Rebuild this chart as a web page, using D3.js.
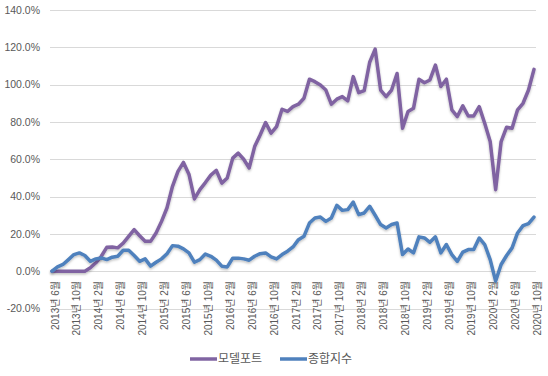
<!DOCTYPE html>
<html>
<head>
<meta charset="utf-8">
<script src="https://cdn.jsdelivr.net/npm/d3@7"></script>
<style>
  body { margin: 0; background: #fff; }
  svg { display: block; font-family: "Liberation Sans", Arial, "Noto Sans CJK KR", sans-serif; }
</style>
</head>
<body>
<div id="chart"></div>
<script>
// 데이터 (%)
const startMonth = new Date(2013, 5, 1);
const endMonth = new Date(2020, 10, 1);

const modelPort = [
  0, 0, 0, 0, 0, 0, 0, 1.8, 4.5, 8, 12.8, 13, 12.5, 15, 18.7, 22.3, 19, 16, 16, 20.5,
  26.7, 34, 45.5, 53.5, 58.3, 52, 38.7, 43.7, 47.5, 51.5, 54, 47.2, 50, 60.6, 63.3, 60, 55.3, 66.8, 73, 79.7,
  74, 77.5, 86.8, 85.6, 88.2, 89.5, 92.7, 102.9, 101.6, 99.8, 97.1, 89.5, 92.2, 93.6, 91.3, 104.3, 95.7, 96.8, 112, 119,
  97.1, 93.6, 97.1, 106, 76.6, 85.6, 87.3, 102.9, 101, 102.5, 110.5, 99, 102.9, 86.5, 82.9, 88.6, 83.2, 83.2, 88.2, 79.3,
  69.5, 43.7, 69.5, 77.2, 76.6, 86.5, 90, 97.1, 108.2
];

const kospi = [
  0, 2.3, 3.6, 6.2, 8.9, 9.8, 8.4, 5.3, 6.6, 7.1, 6.2, 7.5, 8, 11.2, 11.2, 8.4, 5.3, 6.6, 2.7, 4.8,
  6.6, 9.4, 13.7, 13.4, 12, 9.8, 4.8, 6.2, 9.2, 8, 5.9, 2.7, 2.3, 7, 7, 6.6, 5.9, 8, 9.4, 9.8,
  7.7, 6.6, 8.9, 10.7, 13, 16.9, 18.7, 25.8, 28.5, 29, 26.7, 28.5, 35.3, 32.6, 33, 37, 30.3, 31.2, 34.8, 30,
  25, 23.2, 25, 25.8, 8.9, 11.9, 9.8, 18.4, 17.8, 15.5, 18.4, 9.8, 14.3, 8.9, 5.3, 10.2, 11.6, 11.6, 17.8, 14.3,
  6.2, -5.3, 3.6, 8.4, 12.5, 20.5, 24.4, 25.5, 29
];

const yTicks = [-20, 0, 20, 40, 60, 80, 100, 120, 140];

const seriesNames = ['모델포트', '종합지수'];
const seriesColors = ['#8064A2', '#4F81BD'];

// 설정
const width = 548, height = 376;
const months = d3.timeMonth.range(startMonth, endMonth);
const monthLabel = d => `${d.getFullYear()}년 ${d.getMonth() + 1}월`;

const svg = d3.select('#chart').append('svg')
  .attr('width', width)
  .attr('height', height);

const defs = svg.append('defs');
const shadow = defs.append('filter').attr('id', 'shadow')
  .attr('x', '-5%').attr('y', '-5%').attr('width', '110%').attr('height', '120%');
shadow.append('feDropShadow')
  .attr('dx', 0).attr('dy', 1.5).attr('stdDeviation', 1)
  .attr('flood-color', '#000').attr('flood-opacity', 0.25);

const x = d3.scalePoint()
  .domain(months.map((d, i) => i))
  .range([52, 534]);

const y = d3.scaleLinear()
  .domain([-20, 140])
  .range([308.5, 10]);

// 눈금선
svg.append('g')
  .selectAll('line')
  .data(yTicks)
  .enter()
  .append('line')
  .attr('x1', 50).attr('x2', 536)
  .attr('y1', d => Math.round(y(d)) + 0.5)
  .attr('y2', d => Math.round(y(d)) + 0.5)
  .attr('stroke', '#D9D9D9')
  .attr('stroke-width', 1);

// Y축 라벨
svg.append('g')
  .selectAll('text')
  .data(yTicks)
  .enter()
  .append('text')
  .attr('x', 40)
  .attr('y', d => y(d))
  .attr('dy', '0.35em')
  .attr('text-anchor', 'end')
  .style('font-size', '10.5px')
  .style('fill', '#595959')
  .text(d => d.toFixed(1) + '%');

// X축 라벨 (4개월마다)
svg.append('g')
  .selectAll('text')
  .data(months.map((d, i) => ({ d, i })).filter(o => o.i % 4 === 0))
  .enter()
  .append('text')
  .attr('transform', o => `translate(${x(o.i) + 3},281) rotate(-90)`)
  .attr('dy', '0.35em')
  .attr('text-anchor', 'end')
  .style('font-size', '10px')
  .style('fill', '#595959')
  .text(o => monthLabel(o.d));

// 선
const line = d3.line()
  .x((d, i) => x(i))
  .y(d => y(d));

[modelPort, kospi].forEach((values, k) => {
  svg.append('path')
    .datum(values)
    .attr('d', line)
    .attr('fill', 'none')
    .attr('stroke', seriesColors[k])
    .attr('stroke-width', 3.5)
    .attr('stroke-linejoin', 'round')
    .attr('stroke-linecap', 'round')
    .attr('filter', 'url(#shadow)');
});

// 범례
const legendX = [190, 280];
const legend = svg.append('g');
seriesNames.forEach((name, k) => {
  legend.append('line')
    .attr('x1', legendX[k]).attr('x2', legendX[k] + 27)
    .attr('y1', 359).attr('y2', 359)
    .attr('stroke', seriesColors[k])
    .attr('stroke-width', 3.5);
  legend.append('text')
    .attr('x', legendX[k] + 28)
    .attr('y', 359)
    .attr('dy', '0.35em')
    .style('font-size', '12px')
    .style('fill', '#595959')
    .text(name);
});
</script>
</body>
</html>
